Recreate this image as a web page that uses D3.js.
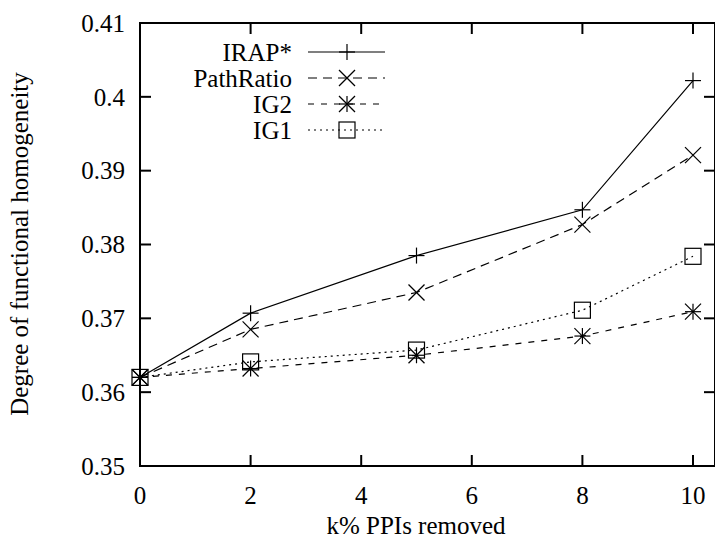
<html>
<head>
<title>Functional homogeneity</title>
<script src="https://cdnjs.cloudflare.com/ajax/libs/d3/7.8.5/d3.min.js"></script>
<style>
  body { margin: 0; background: #fff; }
  text { font-family: "Liberation Serif", "DejaVu Serif", serif; fill: #000; }
</style>
</head>
<body>
<svg id="chart" width="715" height="541"></svg>
<script>
// data
var ks = [0, 2, 5, 8, 10];
var irap = [0.362, 0.3707, 0.3785, 0.3847, 0.4022];
var pathRatio = [0.362, 0.3685, 0.3735, 0.3827, 0.3921];
var ig2 = [0.362, 0.3632, 0.3650, 0.3676, 0.3709];
var ig1 = [0.362, 0.3641, 0.3657, 0.3711, 0.3784];
var xTicks = [0, 2, 4, 6, 8, 10];
var yTicks = [0.35, 0.36, 0.37, 0.38, 0.39, 0.40, 0.41];

var series = [
  { name: 'IRAP*', vals: irap, dash: null, mark: 'plus' },
  { name: 'PathRatio', vals: pathRatio, dash: '9,6', mark: 'cross' },
  { name: 'IG2', vals: ig2, dash: '6,7', mark: 'star' },
  { name: 'IG1', vals: ig1, dash: '2,4', mark: 'square' }
];

var pLeft = 140, pRight = 715, pTop = 23, pBottom = 466;
var fs = 25;
var svg = d3.select('#chart');

var x = d3.scaleLinear().domain([0, 10]).range([pLeft, 693]);
var y = d3.scaleLinear().domain([0.35, 0.41]).range([pBottom, pTop]);

// ticks (inward, on all four sides)
var tk = 11;
var g = svg.append('g').attr('stroke', '#000').attr('stroke-width', 2);
yTicks.forEach(function (v) {
  g.append('line').attr('x1', pLeft).attr('x2', pLeft + tk).attr('y1', y(v)).attr('y2', y(v));
  g.append('line').attr('x1', pRight).attr('x2', pRight - tk).attr('y1', y(v)).attr('y2', y(v));
});
xTicks.forEach(function (v) {
  g.append('line').attr('x1', x(v)).attr('x2', x(v)).attr('y1', pBottom).attr('y2', pBottom - tk);
  g.append('line').attr('x1', x(v)).attr('x2', x(v)).attr('y1', pTop).attr('y2', pTop + tk);
});
svg.append('rect').attr('x', pLeft).attr('y', pTop)
  .attr('width', pRight - pLeft).attr('height', pBottom - pTop)
  .attr('fill', 'none').attr('stroke', '#000').attr('stroke-width', 2);

// tick labels
svg.selectAll('.ylab').data(yTicks).enter().append('text')
  .attr('x', 125).attr('y', function (d) { return y(d); })
  .attr('dy', '0.35em').attr('text-anchor', 'end').attr('font-size', fs)
  .text(function (d) { return d3.format('')(+d.toFixed(2)); });
svg.selectAll('.xlab').data(xTicks).enter().append('text')
  .attr('x', function (d) { return x(d); }).attr('y', 495)
  .attr('dy', '0.35em').attr('text-anchor', 'middle').attr('font-size', fs)
  .text(function (d) { return d; });

svg.append('text').attr('x', 416).attr('y', 525).attr('dy', '0.35em')
  .attr('text-anchor', 'middle').attr('font-size', fs).text('k% PPIs removed');
svg.append('text').attr('transform', 'translate(19,244) rotate(-90)').attr('dy', '0.35em')
  .attr('text-anchor', 'middle').attr('font-size', fs).text('Degree of functional homogeneity');

function marker(sel, type, cx, cy) {
  var s = 8;
  var m = sel.append('g').attr('transform', 'translate(' + cx + ',' + cy + ')')
    .attr('stroke', '#000').attr('stroke-width', 1.2).attr('fill', 'none');
  if (type === 'plus' || type === 'star') {
    m.append('line').attr('x1', -s).attr('x2', s).attr('y1', 0).attr('y2', 0);
    m.append('line').attr('x1', 0).attr('x2', 0).attr('y1', -s).attr('y2', s);
  }
  if (type === 'cross' || type === 'star') {
    m.append('line').attr('x1', -s).attr('x2', s).attr('y1', -s).attr('y2', s);
    m.append('line').attr('x1', -s).attr('x2', s).attr('y1', s).attr('y2', -s);
  }
  if (type === 'square') {
    m.append('rect').attr('x', -s).attr('y', -s).attr('width', 2 * s).attr('height', 2 * s);
  }
}

var line = d3.line().x(function (d, i) { return x(ks[i]); }).y(function (d) { return y(d); });

series.forEach(function (s, j) {
  svg.append('path').datum(s.vals).attr('d', line)
    .attr('fill', 'none').attr('stroke', '#000').attr('stroke-width', 1.2)
    .attr('stroke-dasharray', s.dash);
  s.vals.forEach(function (v, i) { marker(svg, s.mark, x(ks[i]), y(v)); });

  // legend
  var ly = 52 + j * 26;
  svg.append('text').attr('x', 292).attr('y', ly).attr('dy', '0.35em')
    .attr('text-anchor', 'end').attr('font-size', fs).text(s.name);
  svg.append('line').attr('x1', 308).attr('x2', 385).attr('y1', ly).attr('y2', ly)
    .attr('stroke', '#000').attr('stroke-width', 1.2).attr('stroke-dasharray', s.dash);
  marker(svg, s.mark, 347, ly);
});
</script>
</body>
</html>
